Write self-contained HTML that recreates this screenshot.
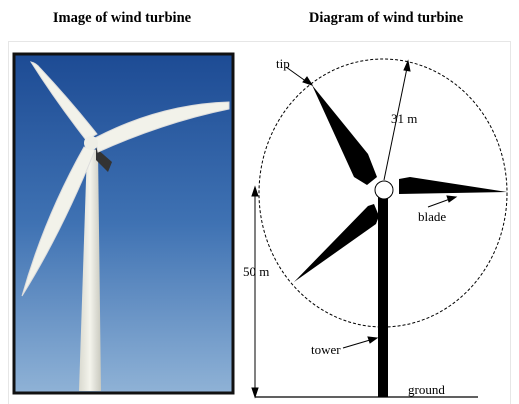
<!DOCTYPE html>
<html><head><meta charset="utf-8"><style>
html,body{margin:0;padding:0;background:#fff;}
svg{display:block;}
text{font-family:"Liberation Serif",serif;}
</style></head><body>
<svg width="519" height="404" viewBox="0 0 519 404">
<defs>
<linearGradient id="sky" x1="0" y1="0" x2="0" y2="1">
<stop offset="0" stop-color="#1d4b94"/><stop offset="0.5" stop-color="#3f72b3"/><stop offset="1" stop-color="#8fb2d6"/>
</linearGradient>
<linearGradient id="towerg" x1="0" y1="0" x2="1" y2="0">
<stop offset="0" stop-color="#d9d9cf"/><stop offset="0.5" stop-color="#f4f4ec"/><stop offset="1" stop-color="#c9c9bf"/>
</linearGradient>
</defs>
<text x="122" y="22" text-anchor="middle" font-size="14.5" font-weight="bold">Image of wind turbine</text>
<text x="386" y="22" text-anchor="middle" font-size="14.5" font-weight="bold">Diagram of wind turbine</text>
<rect x="8.5" y="41.5" width="502" height="370" fill="none" stroke="#e6e6e6"/>

<g>
<rect x="14" y="54" width="219" height="339" fill="url(#sky)" stroke="#111" stroke-width="3"/>
<polygon points="87,150 98,150 101,391 79,391" fill="url(#towerg)"/>
<polygon points="96,148 112,162 108,172 96,160" fill="#333"/>
<path d="M86,140 Q55,100 31,62 Q36,63 40,68 Q70,100 97,134 Z" fill="#f2f2ea" stroke="#ddd" stroke-width="1"/>
<path d="M95,138 Q160,104 229,102 L229,109 Q165,122 98,152 Z" fill="#f2f2ea" stroke="#ddd" stroke-width="1"/>
<path d="M84,147 L95,150 Q62,232 22,296 Q44,218 84,147 Z" fill="#f2f2ea" stroke="#ddd" stroke-width="1"/>
<circle cx="91" cy="143" r="7" fill="#eeeee6"/>
</g>

<g fill="#000" stroke="#000">
<ellipse cx="383" cy="193" rx="124" ry="134" fill="none" stroke-width="1" stroke-dasharray="3,2"/>
<rect x="378" y="196" width="10" height="201" stroke="none"/>
<line x1="255" y1="397" x2="478" y2="397" stroke-width="1.2"/>
<polygon points="312,85 368,154 377,177 367,185 354,177" stroke="none"/>
<polygon points="399,179 410,177 507,192 399,194" stroke="none"/>
<polygon points="294,282 368,206 374,204 379,216 376,224" stroke="none"/>
<circle cx="384" cy="190" r="9" fill="#fff" stroke-width="1"/>
<line x1="384" y1="180" x2="407" y2="68" stroke-width="1"/>
<polygon points="408,61 404,70 410,71"/>
<line x1="255" y1="194" x2="255" y2="390" stroke-width="1"/>
<polygon points="255,187 252,196 258,196"/>
<polygon points="255,397 252,388 258,388"/>
<line x1="286" y1="67" x2="307" y2="82" stroke-width="1"/>
<polygon points="312,85 303,82 307,77"/>
<line x1="343" y1="348" x2="370" y2="340" stroke-width="1"/>
<polygon points="377,338 368,337 370,343"/>
<line x1="428" y1="207" x2="450" y2="199" stroke-width="1"/>
<polygon points="456,197 447,196 449,202"/>
<g stroke="none" font-size="13">
<text x="276" y="68">tip</text>
<text x="391" y="123">31 m</text>
<text x="243" y="276">50 m</text>
<text x="418" y="221">blade</text>
<text x="311" y="354">tower</text>
<text x="408" y="394">ground</text>
</g>
</g>
</svg>
</body></html>
